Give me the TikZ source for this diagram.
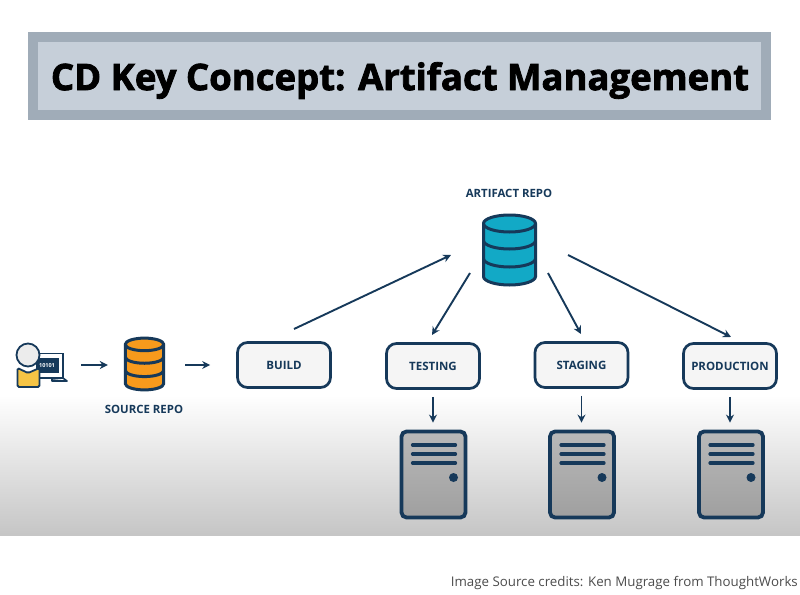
\documentclass[tikz,border=0pt]{standalone}
\usepackage{fontspec}
\usetikzlibrary{arrows.meta}
\setmainfont{Open Sans}
\newfontfamily\titlefont[FakeBold=2.2]{Open Sans Bold}
\definecolor{navy}{HTML}{16395A}
\definecolor{framegray}{HTML}{A0ACB8}
\definecolor{panelgray}{HTML}{C6CFD9}
\definecolor{repoorange}{HTML}{F79A1C}
\definecolor{repoteal}{HTML}{12A9C6}
\definecolor{bodyyellow}{HTML}{F5C445}
\tikzset{
  stagebox/.style={draw=navy, line width=2.7pt, rounded corners=10pt, fill=white!96!black, minimum width=93pt, minimum height=45pt, font=\fontsize{11.5}{13}\selectfont\bfseries, text=navy},
  serverbox/.style={draw=navy, line width=3.8pt, rounded corners=5pt, top color=gray!55, bottom color=gray!75, minimum width=64pt, minimum height=86pt},
  repolabel/.style={font=\fontsize{11.4}{13}\selectfont\bfseries, text=navy},
  flow/.style={-{Stealth[length=8pt,width=8pt]}, draw=navy, line width=1.9pt},
  repo/.pic={
    \draw[navy, line width=3pt, fill=#1] (-26,-26.5) -- (-26,26.5) arc[start angle=180, end angle=0, x radius=26, y radius=8.5] -- (26,-26.5) arc[start angle=0, end angle=-180, x radius=26, y radius=8.5] -- cycle;
    \draw[navy, line width=3pt] (-26,-26.5) arc[start angle=180, end angle=0, x radius=26, y radius=8.5];
    \draw[navy, line width=3pt] (-26,-9.5) arc[start angle=180, end angle=0, x radius=26, y radius=8.5];
    \draw[navy, line width=3pt] (-26,8.5) arc[start angle=180, end angle=0, x radius=26, y radius=8.5];
  }
}
\begin{document}
\begin{tikzpicture}[x=1pt,y=-1pt,>=Stealth]
  \useasboundingbox (0,0) rectangle (800,594);
  \fill[white] (0,0) rectangle (800,594);

  % Shaded floor
  \shade[top color=white, bottom color=gray!45] (0,395) rectangle (800,535);

  % Title
  \node[draw=framegray, line width=10pt, fill=panelgray, minimum width=733pt, minimum height=78pt] (titleframe) at (399.5,76) {};
  \node[font=\fontsize{36.5}{42}\titlefont\selectfont] (title) at (400,80.5) {CD Key Concept: Artifact Management};

  % Developer
  \node[minimum width=52pt, minimum height=40pt, inner sep=0pt] (user) at (41,365) {};
  \draw[navy, line width=1.6pt, fill=white] (37,353.5) rectangle (63,378);
  \fill[navy] (36,358) rectangle (59,373);
  \node[text=white, inner sep=0pt, font=\fontsize{5.5}{6}\selectfont\bfseries] (bits) at (47,365.5) {10101};
  \draw[navy, line width=1.6pt, line join=round] (52,379) -- (63,378) -- (67,381) -- (52,381) -- cycle;
  \draw[navy, line width=1.8pt, fill=bodyyellow, rounded corners=1.5pt] (17.5,368) -- (28,373) -- (39.5,368) -- (39.5,387) -- (17.5,387) -- cycle;
  \draw[navy, line width=1.8pt, fill=gray!15] (28,355) circle (11.5);

  % Repositories
  \node[minimum width=39pt, minimum height=52pt, inner sep=0pt] (source) at (144.5,365) {};
  \pic[transform shape, scale=0.74] at (144.5,364) {repo=repoorange};
  \node[repolabel] (sourcelabel) at (144,409) {SOURCE REPO};
  \node[minimum width=53pt, minimum height=70pt, inner sep=0pt] (artifact) at (509.5,250) {};
  \pic at (509.5,250) {repo=repoteal};
  \node[repolabel] (artifactlabel) at (509,193) {ARTIFACT REPO};

  % Stages
  \node[stagebox] (build) at (284,365) {BUILD};
  \node[stagebox] (testing) at (433,366) {TESTING};
  \node[stagebox] (staging) at (581.5,365) {STAGING};
  \node[stagebox] (production) at (730,366) {PRODUCTION};

  % Servers
  \node[serverbox] (testserver) at (433.5,474.5) {};
  \node[serverbox] (stageserver) at (582,474.5) {};
  \node[serverbox] (prodserver) at (731,474.5) {};
  \foreach \srv in {testserver,stageserver,prodserver} {
    \foreach \dy in {-29.5,-20.5,-11.5}
      \draw[navy, line width=3.2pt, line cap=round] ([shift={(-21,\dy)}]\srv.center) -- ([shift={(22,\dy)}]\srv.center);
    \fill[navy] ([shift={(20,3)}]\srv.center) circle (4.5);
  }

  % Free ends of the long arrows
  \coordinate (buildout) at (294,329);
  \coordinate (artifactin) at (451,255);
  \coordinate (testout) at (470,273);
  \coordinate (testin) at (432,335);
  \coordinate (stageout) at (548,273);
  \coordinate (stagein) at (581,334);
  \coordinate (prodout) at (568,255);
  \coordinate (prodin) at (731,337);

  % Arrows
  \draw[flow, shorten <=14pt, shorten >=17pt] (user) -- (source);
  \draw[flow, shorten <=21pt, shorten >=26pt] (source) -- (build);
  \draw[flow] (buildout) -- (artifactin);
  \draw[flow] (testout) -- (testin);
  \draw[flow] (stageout) -- (stagein);
  \draw[flow] (prodout) -- (prodin);
  \draw[flow, shorten <=7pt, shorten >=7pt] (testing) -- (testing |- testserver.north);
  \draw[flow, shorten <=7pt, shorten >=7pt] (staging) -- (staging |- stageserver.north);
  \draw[flow, shorten <=7pt, shorten >=7pt] (production) -- (production |- prodserver.north);

  % Credit
  \node[anchor=east, inner sep=0pt, text=black!70, font=\fontsize{13.3}{16}\selectfont] (credit) at (798,583) {Image Source credits: Ken Mugrage from ThoughtWorks};
\end{tikzpicture}
\end{document}
